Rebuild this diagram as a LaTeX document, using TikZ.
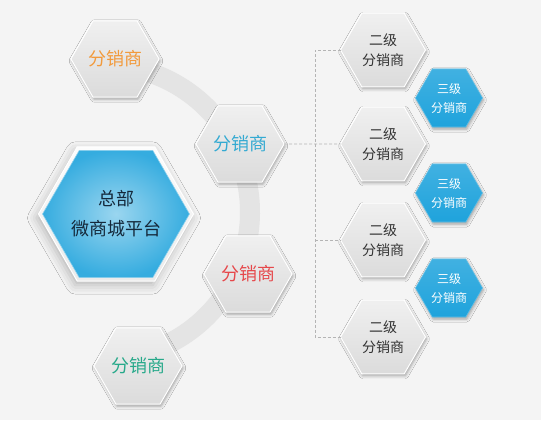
\documentclass[tikz,border=0pt]{standalone}
\usepackage{fontspec}
\usepackage{xcolor}
\usepackage{tikz}
\usetikzlibrary{shapes.geometric, shadows.blur}
\newfontfamily\cjk{Noto Sans CJK SC}
\definecolor{bggray}{HTML}{F4F4F4}
\definecolor{bandgray}{HTML}{E4E4E4}
\definecolor{dashgray}{HTML}{B4B4B4}
\definecolor{hexblue}{HTML}{1FA3DC}
\definecolor{txtorange}{HTML}{F29A3C}
\definecolor{txtblue}{HTML}{34AAD2}
\definecolor{txtred}{HTML}{E6484B}
\definecolor{txtgreen}{HTML}{27A98A}
\definecolor{txtdark}{HTML}{15293B}
\tikzset{
  hexa/.style={regular polygon, regular polygon sides=6, inner sep=0pt, outer sep=0pt, align=center},
  grayhex/.style={hexa, minimum size=85pt, draw=white, line width=1pt,
    top color=white!94!black, bottom color=white!86!black,
    blur shadow={shadow xshift=1pt, shadow yshift=-2pt, shadow blur radius=3pt, shadow opacity=35}},
  lvlone/.style={grayhex, font=\cjk\fontsize{18}{20}\selectfont},
  lvltwo/.style={grayhex, text=black!80, font=\cjk\fontsize{14}{20}\selectfont},
  lvlthree/.style={hexa, minimum size=67pt, draw=hexblue!70!white, line width=.6pt,
    top color=hexblue!85!white, bottom color=hexblue, text=white,
    font=\cjk\fontsize{12}{19}\selectfont,
    blur shadow={shadow xshift=1pt, shadow yshift=-2pt, shadow blur radius=3pt, shadow opacity=35}},
  hqframe/.style={hexa, minimum size=155pt, draw=white, line width=1pt,
    top color=white!99!black, bottom color=white!92!black,
    blur shadow={shadow xshift=-2pt, shadow yshift=-4pt, shadow blur radius=9pt, shadow opacity=25}},
  hqbox/.style={hexa, minimum size=141pt, inner color=hexblue!45!white, outer color=hexblue!90!white,
    draw=hexblue!50!white, line width=.6pt, text=txtdark, font=\cjk\fontsize{18}{30}\selectfont},
  band/.style={bandgray, line width=20pt},
  dashline/.style={dashgray, line width=.6pt, dash pattern=on 3pt off 2pt}
}

\begin{document}
\begin{tikzpicture}[x=1pt, y=1pt]
  \useasboundingbox (0,0) rectangle (541,437);
  \fill[white] (0,0) rectangle (541,17);
  \fill[bggray] (0,17) rectangle (541,437);

  % ring behind the distributors
  \coordinate (hub) at (103,225);
  \draw[band] ([shift={(95:147pt)}]hub) arc[start angle=95, end angle=-82, radius=147pt];

  \node[hqframe] (hqf) at (116,223) {};
  \node[hqbox] (hq) at (hqf) {总部\\微商城平台};

  \foreach \n/\x/\y/\c in {d1/115/378/txtorange, d2/240/293/txtblue, d3/248/163/txtred, d4/138/71/txtgreen}
    \node[lvlone, text=\c] (\n) at (\x,\y) {分销商};

  \foreach \i/\y in {1/387, 2/293, 3/197, 4/100}
    \node[lvltwo] (s\i) at (383,\y) {二级\\分销商};

  \foreach \i/\y in {1/339, 2/244, 3/149}
    \node[lvlthree] (t\i) at (449,\y) {三级\\分销商};

  % dashed links
  \coordinate (bus) at (315,0);
  \draw[dashline] (s1.west) -- (s1.west -| bus) -- (s4.west -| bus) -- (s4.west);
  \draw[dashline] (d2.east) -- (s2.west);
  \draw[dashline] (s3.west -| bus) -- (s3.west);
\end{tikzpicture}
\end{document}
